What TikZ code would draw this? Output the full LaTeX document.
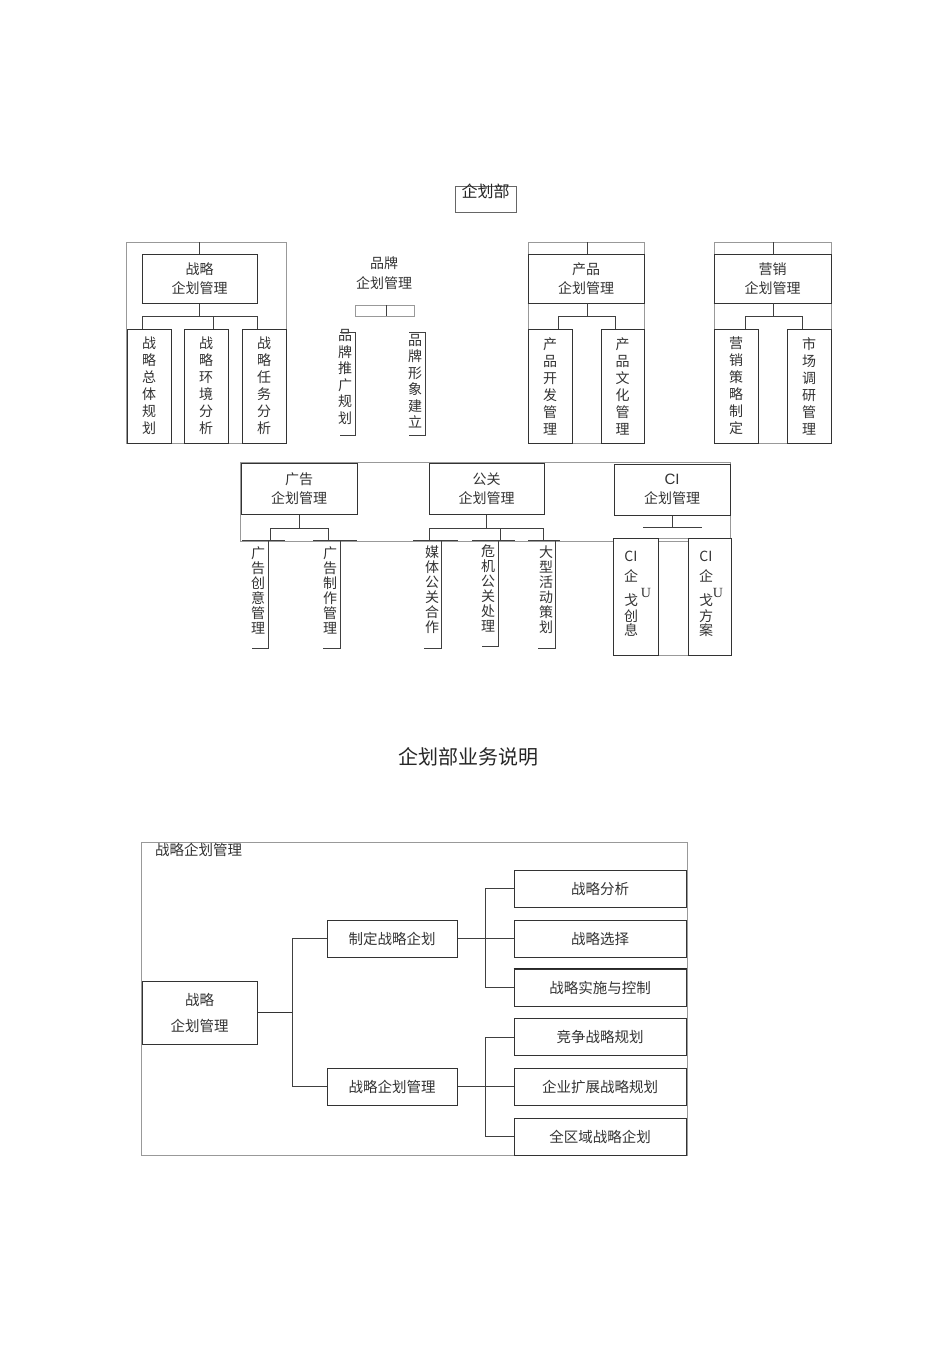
\documentclass[tikz,border=0pt]{standalone}
\usepackage{fontspec}
\setmainfont{Liberation Serif}
\setsansfont{Liberation Sans}
\newfontfamily\cjk{Noto Sans CJK SC}
\begin{document}
\begin{tikzpicture}[x=1pt,y=-1pt,
  box/.style={draw=black!80, line width=1pt, fill=white, inner sep=0pt, align=center, text=black!80, font={\cjk\fontsize{14}{19}\selectfont}},
  vbox/.style={box, minimum width=44pt, minimum height=114pt, font={\cjk\fontsize{14}{17}\selectfont}},
  frame/.style={draw=black!40, line width=0.6pt},
  conn/.style={draw=black!75, line width=1pt},
  thickconn/.style={draw=black!80, line width=1.8pt},
  vtext/.style={inner sep=0pt, align=center, text=black!80, font={\cjk\fontsize{14}{15}\selectfont}},
  lbl/.style={inner sep=0pt, align=center, text=black!80, font={\cjk\fontsize{14}{20}\selectfont}},
  bbox/.style={draw=black!80, line width=1pt, fill=white, inner sep=0pt, align=center, text=black!80, font={\cjk\fontsize{14.5}{26}\selectfont}}
]
\useasboundingbox (0,0) rectangle (950,1345);
\fill[white] (0,0) rectangle (950,1345);

% ---------- 企划部 ----------
\node[draw=black!60, line width=0.8pt, minimum width=61pt, minimum height=26pt, inner sep=0pt] (hq) at (485.5,199) {};
\node[inner sep=0pt, text=black!85, font={\cjk\fontsize{16}{18}\selectfont}] (hqt) at (485.5,191) {企划部};

% ---------- 战略 group ----------
\draw[frame] (126,242) rectangle (286,443);
\coordinate (sT) at (199.5,242);
\node[box, minimum width=115pt, minimum height=49pt] (s0) at (199.5,278.5) {战略\\企划管理};
\draw[line width=1.8pt, black!80] (s0.south west) -- (s0.south east);
\node[vbox] (s1) at (149,386) {战\\略\\总\\体\\规\\划};
\node[vbox] (s2) at (206,386) {战\\略\\环\\境\\分\\析};
\node[vbox] (s3) at (264,386) {战\\略\\任\\务\\分\\析};
\coordinate (sJ) at (199.5,316);
\draw[conn] (sT) -- (s0.north);
\draw[conn] (s0.south) -- (sJ);
\draw[conn] (142,316) -- (257,316);
\draw[conn] (142,316) -- (142,329);
\draw[conn] (213,316) -- (213,329);
\draw[conn] (257,316) -- (257,329);

% ---------- 品牌 group ----------
\node[lbl] (b0) at (384,273) {品牌\\企划管理};
\node[frame, minimum width=59pt, minimum height=11pt, inner sep=0pt] (bbar) at (384.5,310.5) {};
\draw[conn] (386,305) -- (386,316);
\node[vtext, font={\cjk\fontsize{14}{16.5}\selectfont}] (b1) at (345,377) {品\\牌\\推\\广\\规\\划};
\node[vtext, font={\cjk\fontsize{14}{16.5}\selectfont}] (b2) at (415,381) {品\\牌\\形\\象\\建\\立};
\draw[conn] (340,332) -- (355,332) -- (355,435) -- (340,435);
\draw[conn] (409,332) -- (425,332) -- (425,435) -- (409,435);

% ---------- 产品 group ----------
\draw[frame] (528,242) rectangle (644,443);
\coordinate (pT) at (587,242);
\node[box, minimum width=116pt, minimum height=49pt] (p0) at (586,278.5) {产品\\企划管理};
\draw[line width=1.8pt, black!80] (p0.south west) -- (p0.south east);
\node[vbox] (p1) at (550,386) {产\\品\\开\\发\\管\\理};
\node[vbox, minimum width=43pt] (p2) at (622.5,386) {产\\品\\文\\化\\管\\理};
\coordinate (pJ) at (587,316);
\draw[conn] (pT) -- (587,254);
\draw[conn] (587,303) -- (pJ);
\draw[conn] (558,329) |- (615,316) -- (615,329);

% ---------- 营销 group ----------
\draw[frame] (714,242) rectangle (831,443);
\coordinate (mT) at (773,242);
\node[box, minimum width=117pt, minimum height=49pt] (m0) at (772.5,278.5) {营销\\企划管理};
\draw[line width=1.8pt, black!80] (m0.south west) -- (m0.south east);
\node[vbox] (m1) at (736,386) {营\\销\\策\\略\\制\\定};
\node[vbox] (m2) at (809,386) {市\\场\\调\\研\\管\\理};
\coordinate (mJ) at (773,316);
\draw[conn] (mT) -- (773,254);
\draw[conn] (773,303) -- (mJ);
\draw[conn] (745,329) |- (802,316) -- (802,329);

% ---------- row 2 ----------
\draw[frame] (240,462) rectangle (730,541);

% 广告
\node[box, minimum width=116pt, minimum height=51pt] (a0) at (299,489) {广告\\企划管理};
\coordinate (aJ) at (299,528);
\draw[conn] (a0.south) -- (aJ);
\draw[conn] (270,540) |- (328,528) -- (328,540);
\draw[conn] (242,540) -- (285,540);
\draw[conn] (313,540) -- (357,540);
\node[vtext] (a1) at (258,590) {广\\告\\创\\意\\管\\理};
\node[vtext] (a2) at (330,590) {广\\告\\制\\作\\管\\理};
\draw[conn] (268,540) -- (268,648) -- (252,648);
\draw[conn] (340,540) -- (340,648) -- (323,648);

% 公关
\node[box, minimum width=115pt, minimum height=51pt] (g0) at (486.5,489) {公关\\企划管理};
\coordinate (gJ) at (486.5,528);
\draw[conn] (g0.south) -- (gJ);
\draw[conn] (429,540) |- (543,528) -- (543,540);
\draw[conn] (500,528) -- (500,540);
\draw[conn] (413,540) -- (458,540);
\draw[conn] (472,540) -- (515,540);
\draw[conn] (528,540) -- (560,540);
\node[vtext] (g1) at (432,590) {媒\\体\\公\\关\\合\\作};
\node[vtext] (g2) at (488,588) {危\\机\\公\\关\\处\\理};
\node[vtext] (g3) at (546,590) {大\\型\\活\\动\\策\\划};
\draw[conn] (441,540) -- (441,648) -- (424,648);
\draw[conn] (498,540) -- (498,646) -- (482,646);
\draw[conn] (555,540) -- (555,648) -- (538,648);

% CI
\node[box, minimum width=116pt, minimum height=51pt] (c0) at (672,489.5) {{\sffamily\fontsize{15}{17}\selectfont CI}\\企划管理};
\coordinate (cJ) at (672,527);
\draw[conn] (c0.south) -- (cJ);
\draw[conn] (643,527) -- (702,527);
\draw[frame] (613,538) rectangle (731,655);
\node[box, minimum width=45pt, minimum height=117pt] (ci1) at (635.5,596.5) {};
\node[box, minimum width=43pt, minimum height=117pt] (ci2) at (709.5,596.5) {};
\node[vtext, anchor=north] (ci1t) at (631,551) {CI\\[5pt]企\\[9pt]戈\\[1pt]创\\[-1pt]息};
\node[vtext, anchor=north] (ci2t) at (706,551) {CI\\[5pt]企\\[9pt]戈\\[1pt]方\\[-1pt]案};
\node[vtext, font={\rmfamily\fontsize{14}{15}\selectfont}] (ciu1) at (646,593) {U};
\node[vtext, font={\rmfamily\fontsize{14}{15}\selectfont}] (ciu2) at (718,593) {U};

% ---------- title ----------
\node[inner sep=0pt, text=black!85, font={\cjk\fontsize{20}{22}\selectfont}] (title) at (468,757) {企划部业务说明};

% ---------- bottom chart ----------
\draw[frame] (141,842) rectangle (687,1155);
\node[anchor=west, inner sep=0pt, text=black!80, font={\cjk\fontsize{14.5}{16}\selectfont}] (blabel) at (155,850) {战略企划管理};
\node[bbox, minimum width=115pt, minimum height=63pt] (B0) at (199.5,1012.5) {战略\\企划管理};
\node[bbox, minimum width=130pt, minimum height=37pt] (B1) at (392,938.5) {制定战略企划};
\node[bbox, minimum width=130pt, minimum height=37pt] (B2) at (392,1086.5) {战略企划管理};
\node[bbox, minimum width=172pt, minimum height=37pt] (R1) at (600,888.5) {战略分析};
\node[bbox, minimum width=172pt, minimum height=37pt] (R2) at (600,938.5) {战略选择};
\node[bbox, minimum width=172pt, minimum height=37pt] (R3) at (600,987.5) {战略实施与控制};
\node[bbox, minimum width=172pt, minimum height=37pt] (R4) at (600,1037) {竞争战略规划};
\node[bbox, minimum width=172pt, minimum height=37pt] (R5) at (600,1086.5) {企业扩展战略规划};
\node[bbox, minimum width=172pt, minimum height=37pt] (R6) at (600,1136.5) {全区域战略企划};
\draw[line width=1.8pt, black!85] (R3.north west) -- (R3.north east);

\coordinate (J0) at (292,1012.5);
\coordinate (J1) at (485,938.5);
\coordinate (J2) at (485,1086.5);
\draw[thickconn] (B0.east) -- (J0);
\draw[conn] (B1.west) -| (J0);
\draw[conn] (B2.west) -| (J0);
\draw[conn] (B1.east) -- (J1);
\draw[conn] (R1.west) -| (J1);
\draw[conn] (R2.west) -- (J1);
\draw[conn] (R3.west) -| (J1);
\draw[conn] (B2.east) -- (J2);
\draw[conn] (R4.west) -| (J2);
\draw[conn] (R5.west) -- (J2);
\draw[conn] (R6.west) -| (J2);
\end{tikzpicture}
\end{document}
